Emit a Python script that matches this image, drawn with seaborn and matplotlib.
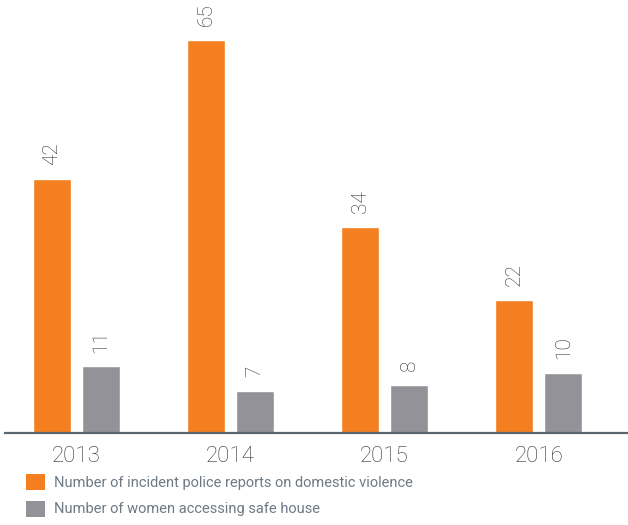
import matplotlib
matplotlib.use("Agg")
import matplotlib.pyplot as plt
import seaborn as sns
import pandas as pd
from matplotlib.patches import Patch

years = ["2013", "2014", "2015", "2016"]
police_reports = [42, 65, 34, 22]
safe_house = [11, 7, 8, 10]
series_names = ["Number of incident police reports on domestic violence",
                "Number of women accessing safe house"]
colors = ["#F47F20", "#939298"]

df = pd.DataFrame({
    "year": years * 2,
    "value": police_reports + safe_house,
    "series": [series_names[0]] * 4 + [series_names[1]] * 4,
})

sns.set_style("white")
plt.rcParams["font.family"] = ["Roboto", "DejaVu Sans"]

fig = plt.figure(figsize=(6.28, 5.25), dpi=100)
ax = fig.add_axes([5 / 628, 92 / 525, 623 / 628, 433 / 525])

sns.barplot(data=df, x="year", y="value", hue="series", palette=colors,
            saturation=1, width=0.636, gap=0.223, ax=ax, legend=False)

for container in ax.containers:
    ax.bar_label(container, rotation=90, padding=10, fontsize=15,
                 color="#333333", fontweight="light")

ax.set_xlim(-0.464, 3.58)
ax.set_ylim(0, 71.6)
ax.set_xlabel("")
ax.set_ylabel("")
ax.set_yticks([])
ax.tick_params(axis="x", length=0, labelsize=16, pad=9, labelcolor="#333333")
for lab in ax.get_xticklabels():
    lab.set_fontweight("light")

for side in ["top", "left", "right"]:
    ax.spines[side].set_visible(False)
ax.spines["bottom"].set_color("#5B6770")
ax.spines["bottom"].set_linewidth(1.6)

handles = [Patch(facecolor=c, edgecolor="none") for c in colors]
fig.legend(handles, series_names, loc="upper left", bbox_to_anchor=(20 / 628, 1 - 468 / 525),
           frameon=False, fontsize=10.5, labelcolor="#6D7A85", handlelength=1.3,
           handleheight=1.3, handletextpad=0.6, labelspacing=0.75, borderaxespad=0)

fig.savefig("out.png", dpi=100)
